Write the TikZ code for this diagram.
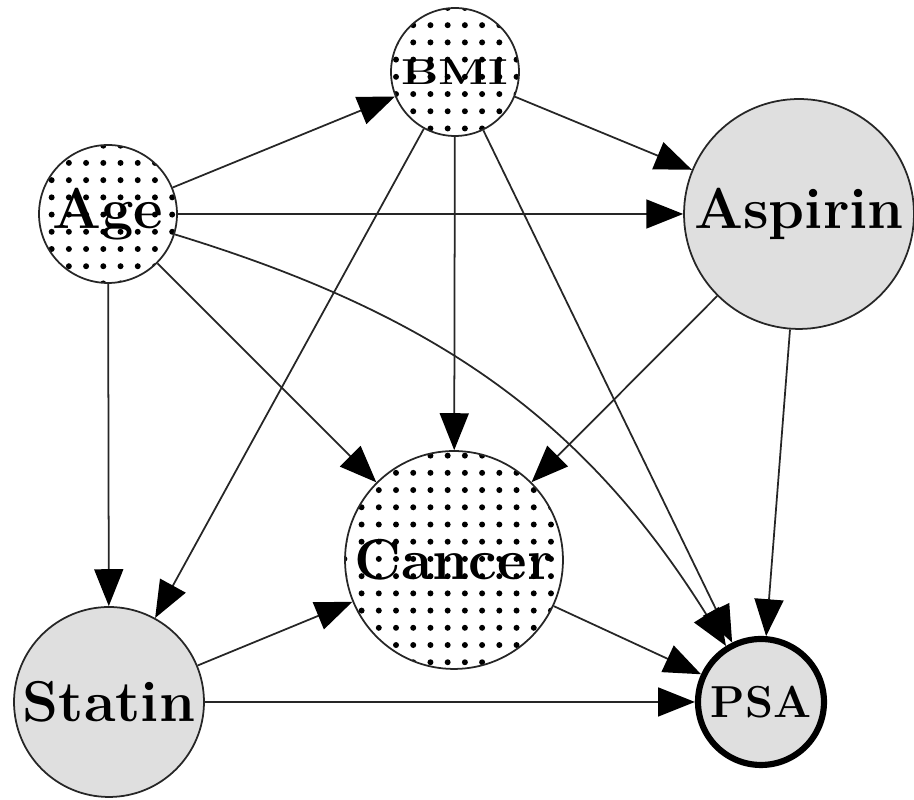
\documentclass[tikz,border=0pt]{standalone}
\usepackage{graphicx}
\usetikzlibrary{arrows.meta,patterns.meta}
\begin{document}
\begin{tikzpicture}[x=0.02cm,y=0.02cm,
  var/.style={circle,inner sep=0pt,draw=black!85,line width=1pt,font=\fontsize{32.8}{38}\selectfont\bfseries},
  dotvar/.style={var,pattern={Dots[distance=9.8pt,radius=1.7pt]},pattern color=black},
  greyvar/.style={var,fill=gray!25},
  edge/.style={draw=black!85,line width=1pt,-{Triangle[length=21pt,width=16.5pt,color=black]}}]
\useasboundingbox (0,0) rectangle (914,800);
\node[dotvar,minimum size=2.56cm] (bmi) at (455,728) {\fontsize{20.5}{24}\selectfont\scalebox{1.3}[1]{BMI}};
\node[dotvar,minimum size=2.76cm] (age) at (108,586) {Age};
\node[greyvar,minimum size=4.6cm] (aspirin) at (799,586) {Aspirin};
\node[dotvar,minimum size=4.36cm] (cancer) at (454,240) {Cancer};
\node[greyvar,minimum size=3.8cm] (statin) at (109,98) {Statin};
\node[greyvar,minimum size=2.52cm,line width=3.5pt,draw=black,font=\fontsize{25.5}{30}\selectfont\bfseries] (psa) at (761,98) {PSA};
\draw[edge] (age) -- (bmi);
\draw[edge] (age) -- (aspirin);
\draw[edge] (age) -- (statin);
\draw[edge] (age) -- (cancer);
\draw[edge] (age) to[out=-17,in=122] (psa);
\draw[edge] (bmi) -- (aspirin);
\draw[edge] (bmi) -- (cancer);
\draw[edge] (bmi) -- (statin);
\draw[edge] (bmi) -- (psa);
\draw[edge] (aspirin) -- (cancer);
\draw[edge] (aspirin) -- (psa);
\draw[edge] (statin) -- (cancer);
\draw[edge] (statin) -- (psa);
\draw[edge] (cancer) -- (psa);
\end{tikzpicture}
\end{document}
